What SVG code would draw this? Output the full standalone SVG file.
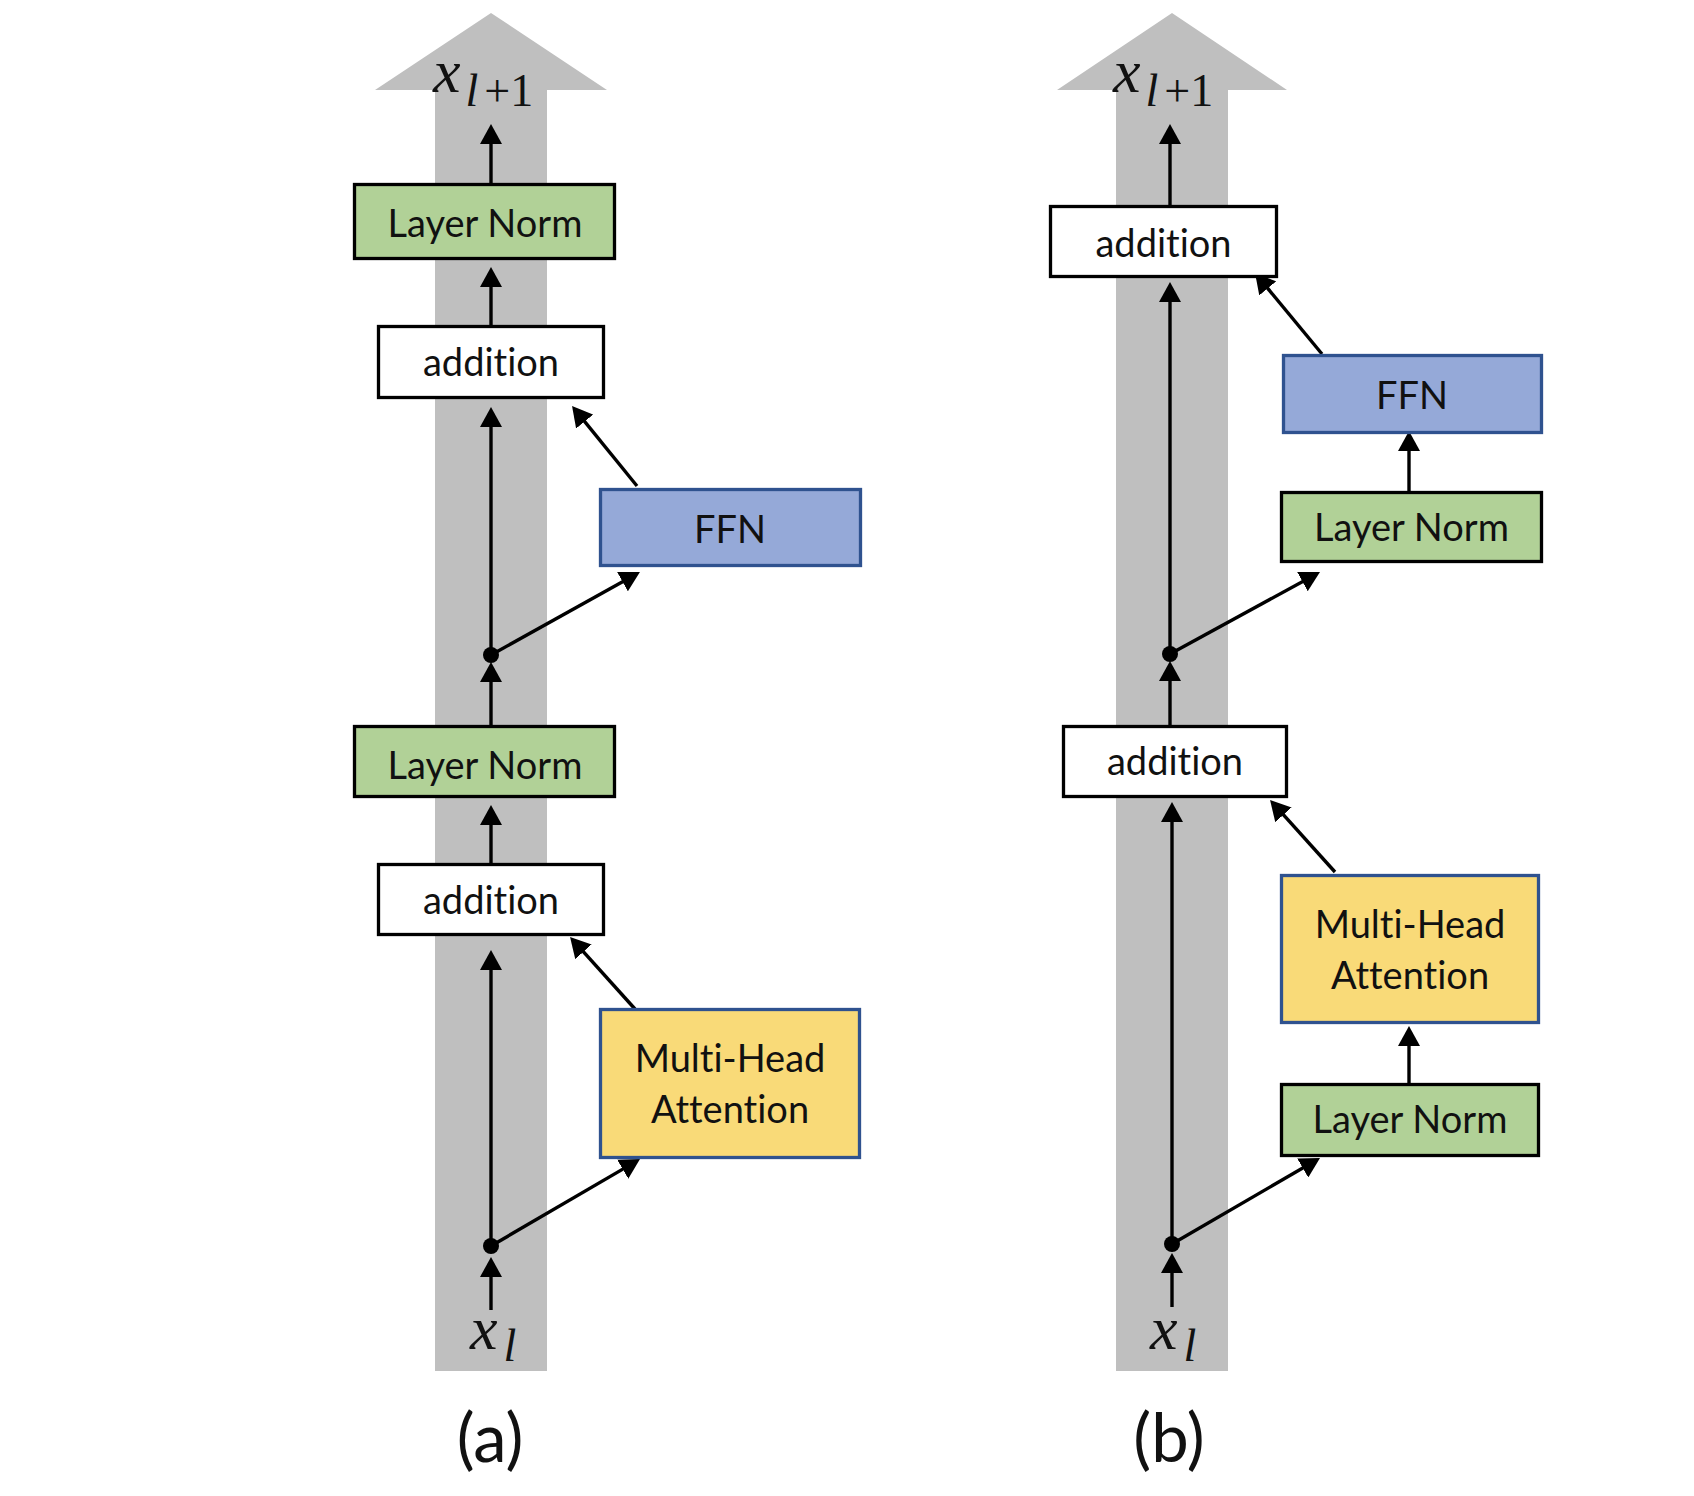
<svg xmlns="http://www.w3.org/2000/svg" width="1694" height="1496" viewBox="0 0 1694 1496">
<style>
.lbl{font-family:Lato,"Open Sans","Liberation Sans",sans-serif;font-size:38px;fill:#111;text-anchor:middle;font-variant-ligatures:none}
.cap{font-family:Lato,"Open Sans","Liberation Sans",sans-serif;font-size:67px;fill:#111;text-anchor:middle}
.math{font-family:"Liberation Serif","DejaVu Serif",serif;font-size:62px;font-style:italic;fill:#111}
.sub{font-size:46px}
.up{font-style:normal}
.bk{stroke:#000;stroke-width:3.3}
.bl{stroke:#2F528F;stroke-width:3.3}
.ln{fill:#B1D197}
.add{fill:#FFFFFF}
.ffn{fill:#95A9D8}
.mha{fill:#F9DA78}
.c{stroke:#000;stroke-width:3.4;fill:none;marker-end:url(#ah)}
</style>
<defs>
<marker id="ah" markerUnits="userSpaceOnUse" viewBox="0 0 20 22" refX="15" refY="11" markerWidth="20" markerHeight="22" orient="auto">
<path d="M0,0 L20,11 L0,22 Z" fill="#000"/>
</marker>
</defs>
<rect width="1694" height="1496" fill="#fff"/>
<g id="backbone">
<path d="M435,1371 L435,90 L375,90 L491,13 L607,90 L547,90 L547,1371 Z" fill="#BFBFBF"/>
<path d="M1116,1371 L1116,90 L1057,90 L1172,13 L1287,90 L1228,90 L1228,1371 Z" fill="#BFBFBF"/>
</g>
<g id="connectors">
<line class="c" x1="491" y1="183" x2="491" y2="129"/>
<line class="c" x1="491" y1="325" x2="491" y2="272"/>
<line class="c" x1="491" y1="655" x2="491" y2="412"/>
<line class="c" x1="491" y1="725" x2="491" y2="667"/>
<line class="c" x1="491" y1="863" x2="491" y2="810"/>
<line class="c" x1="491" y1="1246" x2="491" y2="955"/>
<line class="c" x1="491" y1="1310" x2="491" y2="1262"/>
<line class="c" x1="637" y1="486" x2="575.2" y2="409.9"/>
<line class="c" x1="491" y1="655" x2="635.6" y2="574.4"/>
<line class="c" x1="635" y1="1009" x2="573.4" y2="940.7"/>
<line class="c" x1="491" y1="1246" x2="635.7" y2="1161.6"/>
<line class="c" x1="1170" y1="205" x2="1170" y2="129"/>
<line class="c" x1="1170" y1="654" x2="1170" y2="287"/>
<line class="c" x1="1409" y1="491" x2="1409" y2="436"/>
<line class="c" x1="1170" y1="725" x2="1170" y2="666"/>
<line class="c" x1="1172" y1="1244" x2="1172" y2="807"/>
<line class="c" x1="1409" y1="1083" x2="1409" y2="1031"/>
<line class="c" x1="1172" y1="1307" x2="1172" y2="1258"/>
<line class="c" x1="1322" y1="354" x2="1258.2" y2="276.8"/>
<line class="c" x1="1170" y1="654" x2="1315.6" y2="574.4"/>
<line class="c" x1="1335" y1="872" x2="1273.4" y2="803.7"/>
<line class="c" x1="1172" y1="1244" x2="1315.7" y2="1160.5"/>
<circle cx="491" cy="655" r="8" fill="#000"/>
<circle cx="491" cy="1246" r="8" fill="#000"/>
<circle cx="1170" cy="654" r="8" fill="#000"/>
<circle cx="1172" cy="1244" r="8" fill="#000"/>
</g>
<g id="a-ln-top"><rect class="ln bk" x="354.5" y="184.5" width="260" height="74"/><text class="lbl" x="485" y="237">Layer Norm</text></g>
<g id="a-add-top"><rect class="add bk" x="378.5" y="326.5" width="225" height="71"/><text class="lbl" x="491" y="376">addition</text></g>
<g id="a-ffn"><rect class="ffn bl" x="600.5" y="489.5" width="260" height="76"/><text class="lbl" x="730" y="543">FFN</text></g>
<g id="a-ln-low"><rect class="ln bk" x="354.5" y="726.5" width="260" height="70"/><text class="lbl" x="485" y="779">Layer Norm</text></g>
<g id="a-add-low"><rect class="add bk" x="378.5" y="864.5" width="225" height="70"/><text class="lbl" x="491" y="914">addition</text></g>
<g id="a-mha"><rect class="mha bl" x="600.5" y="1009.5" width="259" height="148"/><text class="lbl" x="730" y="1072">Multi-Head</text><text class="lbl" x="730" y="1123">Attention</text></g>
<g id="b-add-top"><rect class="add bk" x="1050.5" y="206.5" width="226" height="70"/><text class="lbl" x="1163.5" y="257">addition</text></g>
<g id="b-ffn"><rect class="ffn bl" x="1283.5" y="355.5" width="258" height="77"/><text class="lbl" x="1412" y="409">FFN</text></g>
<g id="b-ln-mid"><rect class="ln bk" x="1281.5" y="492.5" width="260" height="69"/><text class="lbl" x="1411.5" y="541">Layer Norm</text></g>
<g id="b-add-mid"><rect class="add bk" x="1063.5" y="726.5" width="223" height="70"/><text class="lbl" x="1175" y="775">addition</text></g>
<g id="b-mha"><rect class="mha bl" x="1281.5" y="875.5" width="257" height="147"/><text class="lbl" x="1410" y="938">Multi-Head</text><text class="lbl" x="1410" y="989">Attention</text></g>
<g id="b-ln-bot"><rect class="ln bk" x="1281.5" y="1084.5" width="257" height="71"/><text class="lbl" x="1410" y="1133">Layer Norm</text></g>
<g id="labels">
<text class="math" x="433" y="92">x<tspan class="sub" dx="5" dy="14">l</tspan><tspan class="sub up" dx="6">+1</tspan></text>
<text class="math" x="1113" y="92">x<tspan class="sub" dx="5" dy="14">l</tspan><tspan class="sub up" dx="6">+1</tspan></text>
<text class="math" x="470" y="1349">x<tspan class="sub" dx="6" dy="12">l</tspan></text>
<text class="math" x="1150" y="1349">x<tspan class="sub" dx="6" dy="12">l</tspan></text>
<text class="cap" x="490" y="1462">(a)</text>
<text class="cap" x="1169" y="1462">(b)</text>
</g>
</svg>
